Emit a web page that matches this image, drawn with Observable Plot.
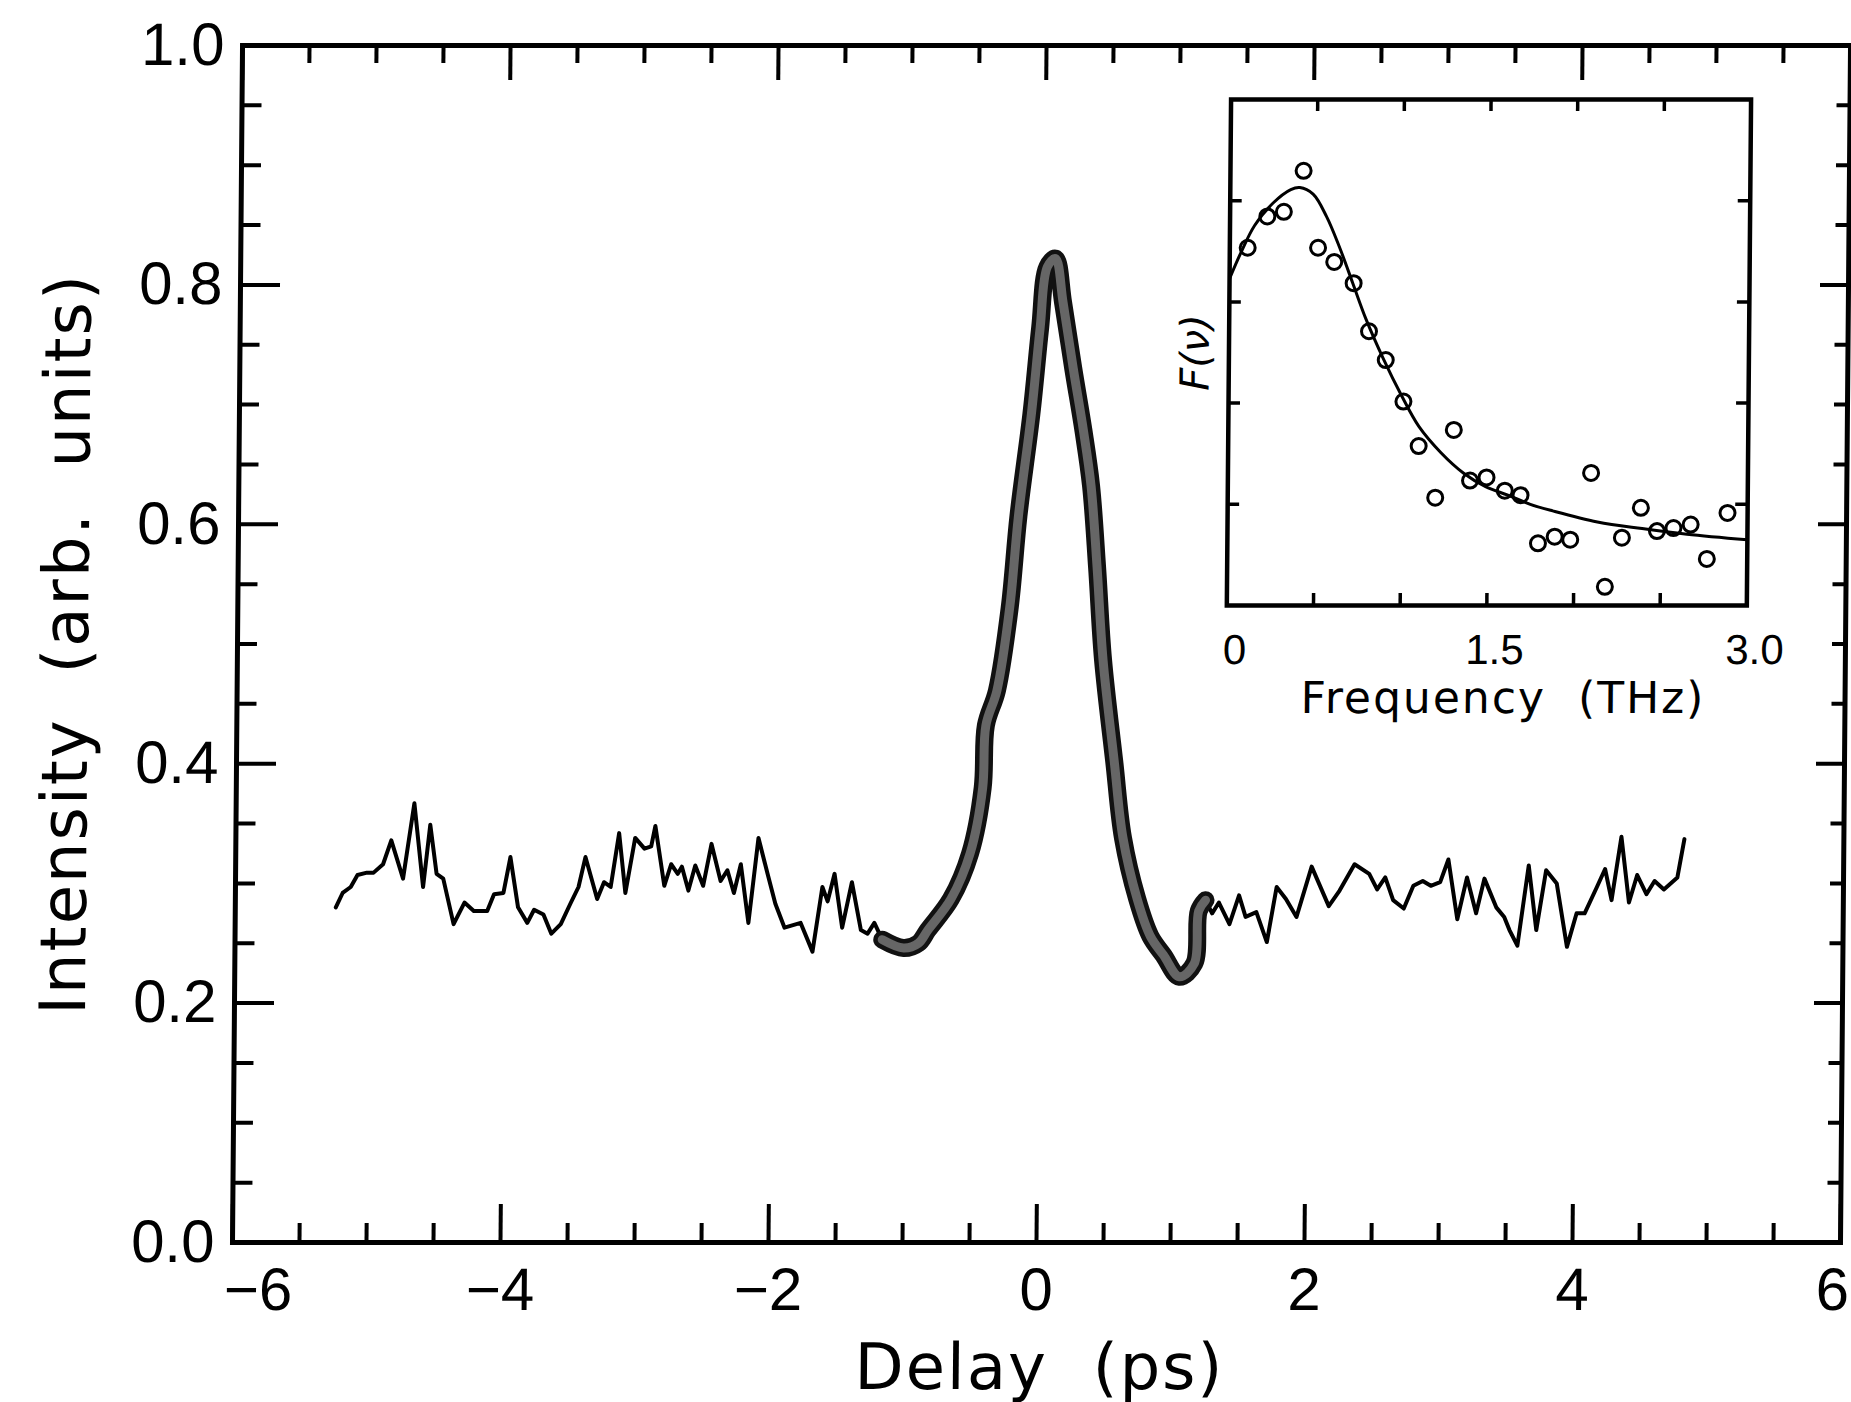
<!DOCTYPE html>
<html><head><meta charset="utf-8">
<script src="https://cdn.jsdelivr.net/npm/d3@7"></script>
<script src="https://cdn.jsdelivr.net/npm/@observablehq/plot@0.6"></script>
<style>
html,body{margin:0;padding:0;background:#fff;}
#wrap{position:relative;width:1851px;height:1402px;transform:skewX(-0.48deg);transform-origin:0 1242px;}
#main{position:absolute;left:0;top:0;}
#inset{position:absolute;left:1100px;top:88px;}
svg{background:transparent !important;overflow:visible;}
svg text{white-space:pre;}
.ttl text{letter-spacing:2px;}
</style></head><body><div id="wrap"><div id="main"></div><div id="inset"></div></div>
<script>
// ---- main trace: delay (ps) vs intensity (arb. units)
const delay = [-5.25,-5.20,-5.14,-5.09,-5.02,-4.97,-4.90,-4.84,-4.75,-4.67,-4.60,-4.55,-4.50,-4.45,-4.37,-4.29,-4.22,-4.12,-4.07,-4.00,-3.95,-3.89,-3.82,-3.77,-3.70,-3.64,-3.57,-3.50,-3.44,-3.39,-3.30,-3.25,-3.20,-3.14,-3.09,-3.02,-2.95,-2.90,-2.87,-2.80,-2.75,-2.70,-2.67,-2.62,-2.57,-2.51,-2.45,-2.38,-2.33,-2.28,-2.23,-2.17,-2.10,-2.03,-1.97,-1.90,-1.78,-1.69,-1.62,-1.58,-1.53,-1.47,-1.40,-1.33,-1.28,-1.23,-1.17,-1.01,-0.90,-0.83,-0.66,-0.52,-0.43,-0.41,-0.33,-0.24,-0.18,-0.09,-0.03,0.02,0.08,0.14,0.22,0.30,0.36,0.41,0.46,0.55,0.62,0.73,0.83,0.93,1.05,1.16,1.19,1.24,1.29,1.34,1.42,1.49,1.54,1.62,1.70,1.77,1.84,1.92,2.03,2.16,2.24,2.35,2.46,2.52,2.58,2.64,2.72,2.79,2.86,2.92,2.99,3.05,3.12,3.19,3.26,3.32,3.41,3.47,3.51,3.57,3.65,3.71,3.78,3.86,3.94,4.01,4.07,4.16,4.22,4.27,4.34,4.40,4.46,4.53,4.59,4.66,4.76,4.81];
const intensity = [0.280,0.292,0.297,0.307,0.309,0.309,0.316,0.336,0.304,0.367,0.297,0.349,0.308,0.304,0.266,0.284,0.277,0.277,0.291,0.292,0.322,0.280,0.267,0.278,0.274,0.258,0.266,0.283,0.297,0.322,0.287,0.301,0.297,0.342,0.292,0.338,0.329,0.331,0.348,0.298,0.316,0.308,0.314,0.294,0.315,0.298,0.333,0.302,0.311,0.292,0.316,0.267,0.338,0.308,0.283,0.263,0.267,0.243,0.297,0.285,0.308,0.263,0.301,0.261,0.258,0.267,0.253,0.246,0.250,0.261,0.287,0.325,0.380,0.432,0.461,0.530,0.607,0.692,0.764,0.815,0.822,0.785,0.730,0.678,0.632,0.564,0.487,0.402,0.338,0.287,0.256,0.240,0.222,0.233,0.277,0.286,0.275,0.284,0.266,0.290,0.272,0.276,0.251,0.297,0.287,0.272,0.314,0.281,0.294,0.316,0.308,0.295,0.305,0.286,0.279,0.298,0.302,0.298,0.301,0.320,0.270,0.305,0.275,0.304,0.280,0.272,0.261,0.248,0.315,0.261,0.311,0.300,0.247,0.275,0.275,0.297,0.312,0.286,0.339,0.284,0.307,0.291,0.302,0.295,0.305,0.337];
const bandRange = [-1.17, 1.24];   // delays drawn as the thick overlapping band

// ---- inset: F(nu) vs frequency (THz)
const freq = [0.103,0.215,0.310,0.422,0.509,0.603,0.716,0.807,0.905,1.009,1.099,1.197,1.301,1.397,1.492,1.598,1.689,1.792,1.888,1.978,2.095,2.180,2.276,2.384,2.478,2.573,2.672,2.767,2.884];
const fnu  = [0.707,0.769,0.778,0.859,0.707,0.679,0.637,0.542,0.485,0.403,0.315,0.213,0.347,0.247,0.253,0.227,0.218,0.123,0.136,0.130,0.262,0.037,0.134,0.193,0.147,0.153,0.160,0.092,0.183];
const fitFreq = [0,0.065,0.142,0.246,0.349,0.401,0.478,0.556,0.634,0.711,0.789,0.892,0.996,1.099,1.228,1.358,1.487,1.616,1.746,1.875,2.134,2.392,2.651,3.0];
const fitF    = [0.646,0.698,0.751,0.795,0.822,0.826,0.813,0.769,0.707,0.637,0.566,0.487,0.416,0.354,0.302,0.262,0.235,0.218,0.200,0.187,0.165,0.152,0.141,0.130];

// ---- ticks
const xMajorTicks = [-6,-4,-2,0,2,4,6];
const xInnerLabels = [-4,-2,0,2,4];
const xMinorTicks = [-5.5,-5,-4.5,-3.5,-3,-2.5,-1.5,-1,-0.5,0.5,1,1.5,2.5,3,3.5,4.5,5,5.5];
const yMajorTicks = [0,0.2,0.4,0.6,0.8,1.0];
const yMinorTicks = [0.05,0.1,0.15,0.25,0.3,0.35,0.45,0.5,0.55,0.65,0.7,0.75,0.85,0.9,0.95];
const insetXTicks = [0.5,1,1.5,2,2.5];
const insetYTicks = [0.2,0.4,0.6,0.8];
const insetXLabels = [0,1.5,3.0];

const trace = delay.map((d,i)=>({d, v:intensity[i]}));
const band = trace.filter(p => p.d >= bandRange[0] && p.d <= bandRange[1]);
const pts = freq.map((f,i)=>({f, F:fnu[i]}));
const fit = fitFreq.map((f,i)=>({f, F:fitF[i]}));

const fmtX = d => d < 0 ? "\u2212" + (-d) : String(d);
const TK = {stroke:"#000", strokeWidth:4};
const LF = "Liberation Sans, Arial, sans-serif";

const main = Plot.plot({
  width:1851, height:1402,
  marginLeft:232, marginRight:11, marginTop:45, marginBottom:160,
  x:{domain:[-6,6]}, y:{domain:[0,1]},
  style:{background:"transparent", overflow:"visible"},
  marks:[
    // inward ticks on four sides
    Plot.ruleX(xMajorTicks, {x:d=>d, y1:0, y2:0.0317, ...TK}),
    Plot.ruleX(xMinorTicks, {x:d=>d, y1:0, y2:0.0159, ...TK}),
    Plot.ruleX(xMajorTicks, {x:d=>d, y1:1, y2:1-0.0292, ...TK}),
    Plot.ruleX(xMinorTicks, {x:d=>d, y1:1, y2:1-0.015, ...TK}),
    Plot.ruleY(yMajorTicks, {y:d=>d, x1:-6, x2:-6+0.2985, ...TK}),
    Plot.ruleY(yMinorTicks, {y:d=>d, x1:-6, x2:-6+0.149, ...TK}),
    Plot.ruleY(yMajorTicks, {y:d=>d, x1:6, x2:6-0.209, ...TK}),
    Plot.ruleY(yMinorTicks, {y:d=>d, x1:6, x2:6-0.097, ...TK}),
    Plot.frame({stroke:"#000", strokeWidth:5}),
    Plot.axisX({ticks:xInnerLabels, tickSize:0, tickPadding:25, tickFormat:fmtX,
      fontSize:60, fontFamily:LF, label:null}),
    Plot.text([xMajorTicks[0]], {x:d=>d, text:fmtX, frameAnchor:"bottom", lineAnchor:"top", dy:25, dx:26,
      fontSize:60, fontFamily:LF, fill:"#000"}),
    Plot.text([xMajorTicks[6]], {x:d=>d, text:fmtX, frameAnchor:"bottom", lineAnchor:"top", textAnchor:"end", dy:25, dx:9,
      fontSize:60, fontFamily:LF, fill:"#000"}),
    Plot.axisY({ticks:yMajorTicks, tickSize:0, tickPadding:18, tickFormat:d=>d.toFixed(1),
      fontSize:60, fontFamily:LF, label:null}),
    // data
    Plot.line(trace, {x:"d", y:"v", stroke:"#000", strokeWidth:4, strokeLinejoin:"round"}),
    Plot.line(band, {x:"d", y:"v", stroke:"#111", strokeWidth:18, strokeLinejoin:"round", strokeLinecap:"round", curve:"catmull-rom"}),
    Plot.line(band, {x:"d", y:"v", stroke:"#666", strokeWidth:9, strokeLinejoin:"round", strokeLinecap:"round", curve:"catmull-rom"}),
    // axis titles
    Plot.text(["Intensity  (arb.  units)"], {frameAnchor:"left", rotate:-90, dx:-170,
      fontSize:64, fontFamily:"DejaVu Sans, sans-serif", lineAnchor:"middle", textAnchor:"middle", fill:"#000", className:"ttl"}),
    Plot.text(["Delay  (ps)"], {frameAnchor:"bottom", dx:4, dy:126,
      fontSize:64, fontFamily:"DejaVu Sans, sans-serif", lineAnchor:"middle", textAnchor:"middle", fill:"#000", className:"ttl"})
  ]
});
document.getElementById("main").appendChild(main);

const TKi = {stroke:"#000", strokeWidth:3.5};
const inset = Plot.plot({
  width:700, height:640,
  marginLeft:121, marginRight:59, marginTop:11, marginBottom:123,
  x:{domain:[0,3]}, y:{domain:[0,1], axis:null},
  style:{background:"transparent", overflow:"visible"},
  marks:[
    Plot.ruleX(insetXTicks, {x:d=>d, y1:0, y2:0.0237, ...TKi}),
    Plot.ruleX(insetXTicks, {x:d=>d, y1:1, y2:1-0.0237, ...TKi}),
    Plot.ruleY(insetYTicks, {y:d=>d, x1:0, x2:0.069, ...TKi}),
    Plot.ruleY(insetYTicks, {y:d=>d, x1:3, x2:3-0.069, ...TKi}),
    Plot.frame({stroke:"#000", strokeWidth:4.5}),
    Plot.axisX({ticks:insetXLabels, tickSize:0, tickPadding:29, dx:8, tickFormat:d=> d===0 ? "0" : d.toFixed(1),
      fontSize:42, fontFamily:LF, label:null}),
    Plot.line(fit, {x:"f", y:"F", stroke:"#000", strokeWidth:3, curve:"catmull-rom"}),
    Plot.dot(pts, {x:"f", y:"F", r:7.5, stroke:"#000", strokeWidth:3, fill:"none"}),
    Plot.text(["Frequency  (THz)"], {frameAnchor:"bottom", dx:17, dy:93,
      fontSize:44, fontFamily:"DejaVu Sans, sans-serif", lineAnchor:"middle", textAnchor:"middle", fill:"#000", className:"ttl"}),
    Plot.text(["F(\u03BD)"], {frameAnchor:"left", rotate:-90, dx:-33,
      fontSize:40, fontStyle:"italic", fontFamily:"DejaVu Sans, sans-serif", lineAnchor:"middle", textAnchor:"middle", fill:"#000"})
  ]
});
document.getElementById("inset").appendChild(inset);
</script>
</body></html>
